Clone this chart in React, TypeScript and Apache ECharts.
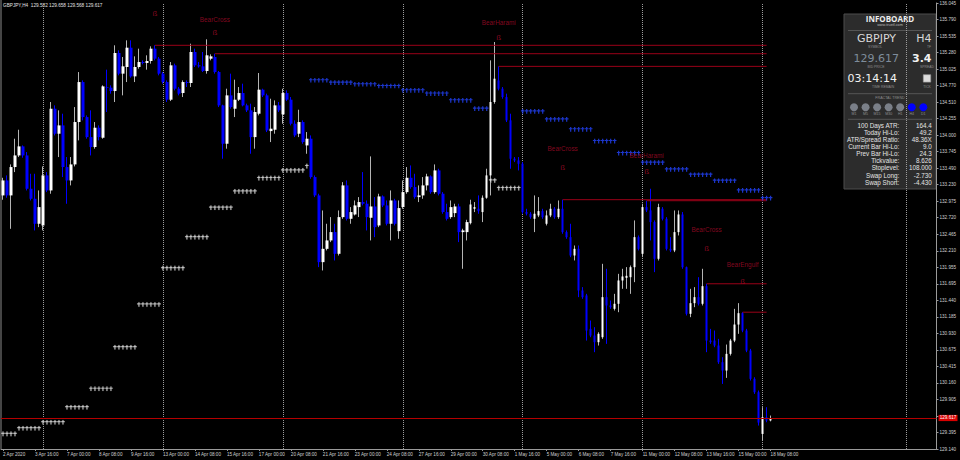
import React, { useEffect, useRef } from 'react';
import * as echarts from 'echarts';

const SYMBOL = 'GBPJPY';
const TIMEFRAME = 'H4';
const BID = 129.617;
const SPREAD = '3.4';
const TIME_REMAIN = '03:14:14';

// H4 bars: [open, close, low, high]
const ohlc: number[][] = [
  [133.066, 133.298, 132.999, 133.339], [133.298, 133.066, 133.030, 133.376], [133.066, 133.505, 132.549, 133.546], [133.505, 133.685, 133.427, 133.944],
  [133.685, 133.825, 133.660, 134.083], [133.825, 133.685, 133.649, 133.840], [133.685, 133.169, 133.143, 133.737], [133.169, 133.014, 132.988, 133.401],
  [133.014, 132.627, 132.524, 133.401], [132.627, 132.885, 132.575, 133.143], [132.601, 133.376, 132.524, 133.515], [133.376, 133.143, 133.117, 133.427],
  [133.143, 134.408, 133.092, 134.512], [134.408, 134.021, 133.995, 134.460], [134.021, 134.150, 133.660, 134.383], [134.150, 133.505, 133.350, 134.331],
  [133.505, 133.298, 132.937, 133.660], [133.298, 133.546, 133.221, 133.660], [133.546, 134.202, 133.515, 134.434], [134.202, 134.821, 133.918, 134.976],
  [134.821, 134.279, 134.228, 134.847], [134.279, 133.969, 133.944, 134.305], [133.969, 133.815, 133.685, 134.383], [133.815, 134.114, 133.789, 134.202],
  [134.114, 133.969, 133.918, 134.150], [133.959, 134.754, 133.944, 134.770], [134.744, 134.734, 134.357, 135.013], [134.734, 134.682, 134.641, 134.770],
  [134.682, 135.271, 134.512, 135.390], [135.271, 134.951, 134.925, 135.312], [134.951, 135.064, 134.615, 135.209], [135.054, 135.353, 134.821, 135.467],
  [135.353, 134.909, 134.889, 135.467], [134.909, 135.054, 134.821, 135.219], [135.054, 135.131, 135.028, 135.338], [135.131, 135.116, 135.095, 135.157],
  [135.116, 135.147, 135.013, 135.235], [135.147, 135.338, 135.106, 135.374], [135.338, 135.183, 135.157, 135.390], [135.183, 134.951, 134.925, 135.209],
  [134.951, 134.821, 134.796, 134.976], [134.821, 134.548, 134.512, 134.847], [134.548, 135.080, 134.527, 135.131], [135.080, 134.718, 134.692, 135.106],
  [134.718, 134.641, 134.615, 134.744], [134.651, 134.821, 134.589, 134.847], [134.821, 134.806, 134.744, 134.847], [134.806, 135.286, 134.744, 135.415],
  [135.286, 135.080, 135.054, 135.338], [135.080, 135.064, 135.044, 135.131], [135.064, 134.992, 134.976, 135.286], [134.992, 135.235, 134.951, 135.483],
  [135.183, 135.219, 135.157, 135.250], [135.209, 134.976, 134.951, 135.260], [134.976, 134.460, 134.434, 134.992], [134.460, 133.866, 133.634, 134.470],
  [133.866, 134.615, 133.789, 134.718], [134.615, 134.434, 134.408, 134.951], [134.408, 134.548, 134.279, 134.858], [134.548, 134.651, 134.527, 134.744],
  [134.651, 134.460, 134.445, 134.796], [134.460, 134.383, 134.357, 134.486], [134.383, 133.969, 133.711, 134.486], [133.969, 134.357, 133.789, 134.434],
  [134.331, 134.703, 134.305, 134.961], [134.703, 134.615, 134.589, 134.718], [134.615, 134.073, 134.047, 134.641], [134.062, 134.099, 133.892, 134.563],
  [134.083, 134.460, 134.021, 134.537], [134.460, 134.383, 134.357, 134.512], [134.321, 134.651, 134.176, 134.718], [134.651, 134.548, 134.527, 134.692],
  [134.548, 134.176, 134.150, 134.589], [134.176, 133.995, 133.969, 134.228], [134.021, 134.202, 133.969, 134.393], [134.202, 133.892, 133.866, 134.228],
  [133.840, 133.944, 133.711, 134.047], [133.944, 133.350, 133.324, 133.995], [133.350, 133.066, 133.040, 133.376], [133.066, 132.033, 131.956, 133.092],
  [132.033, 132.239, 131.904, 132.833], [132.239, 132.369, 132.214, 132.627], [132.369, 132.498, 132.343, 132.730], [132.498, 132.162, 132.059, 132.627],
  [132.162, 132.730, 132.136, 132.833], [132.730, 133.221, 132.704, 133.272], [133.221, 132.704, 132.678, 133.298], [132.704, 132.808, 132.627, 132.885],
  [132.771, 132.911, 132.756, 132.988], [132.885, 132.963, 132.731, 133.040], [132.963, 132.937, 132.911, 133.427], [132.937, 132.730, 132.524, 132.988],
  [132.720, 132.895, 132.369, 133.670], [132.895, 132.575, 132.420, 133.040], [132.601, 133.050, 132.575, 133.092], [133.050, 132.911, 132.885, 133.066],
  [132.911, 132.627, 132.601, 132.988], [132.627, 132.988, 132.369, 133.143], [132.988, 132.627, 132.601, 133.014], [132.513, 132.870, 132.394, 132.988],
  [132.885, 133.117, 132.859, 133.298], [133.117, 133.339, 133.092, 133.505], [133.339, 133.195, 133.169, 133.530], [133.195, 133.040, 133.014, 133.401],
  [133.040, 133.066, 132.963, 133.221], [133.066, 133.221, 133.014, 133.350], [133.221, 133.360, 133.143, 133.401], [133.360, 133.117, 133.092, 133.376],
  [133.117, 133.453, 133.092, 133.546], [133.453, 133.092, 133.066, 133.479], [133.092, 132.808, 132.782, 133.117], [132.808, 132.704, 132.678, 132.937],
  [132.730, 132.885, 132.704, 132.988], [132.792, 132.895, 132.730, 132.937], [132.895, 132.498, 132.343, 132.937], [132.498, 132.524, 131.930, 132.550],
  [132.498, 132.653, 132.369, 132.689], [132.637, 132.926, 132.617, 132.999], [132.859, 132.885, 132.808, 132.963], [132.859, 132.823, 132.782, 133.066],
  [132.808, 133.030, 132.653, 133.066], [133.030, 133.376, 133.014, 133.479], [133.376, 134.512, 133.066, 135.157], [134.512, 134.873, 134.486, 135.441],
  [134.847, 134.718, 134.692, 135.064], [134.718, 134.589, 134.563, 134.744], [134.589, 134.228, 134.202, 134.641], [134.228, 133.634, 133.479, 134.331],
  [133.634, 133.608, 133.582, 133.660], [133.608, 133.556, 133.453, 133.660], [133.556, 132.808, 132.782, 133.582], [132.808, 132.782, 132.756, 132.859],
  [132.782, 132.730, 132.704, 132.808], [132.704, 132.782, 132.498, 133.066], [132.756, 132.823, 132.730, 133.040], [132.823, 132.730, 132.704, 132.859],
  [132.627, 132.756, 132.601, 132.833], [132.756, 132.859, 132.730, 132.937], [132.859, 132.730, 132.704, 132.885], [132.730, 132.859, 132.704, 132.988],
  [132.859, 132.498, 132.472, 133.000], [132.498, 132.420, 132.394, 132.524], [132.420, 132.136, 132.110, 132.627], [132.136, 132.239, 132.059, 132.291],
  [132.239, 131.594, 131.491, 132.291], [131.594, 131.491, 131.465, 131.646], [131.517, 130.974, 130.819, 131.542], [131.000, 130.897, 130.871, 131.129],
  [130.897, 130.794, 130.639, 131.026], [130.794, 130.923, 130.742, 130.948], [130.871, 131.491, 130.845, 132.007], [131.491, 131.362, 130.768, 131.930],
  [131.362, 131.336, 131.310, 131.439], [131.310, 131.388, 131.284, 131.542], [131.388, 131.749, 131.258, 131.852], [131.749, 131.811, 131.620, 131.930],
  [131.790, 131.821, 131.620, 131.956], [131.800, 131.955, 131.542, 131.981], [131.955, 132.420, 131.723, 132.679], [132.420, 132.239, 132.214, 132.446],
  [132.162, 132.885, 132.110, 132.937], [132.885, 132.834, 132.808, 132.984], [132.834, 132.653, 132.369, 133.169], [132.653, 132.085, 131.878, 132.679],
  [132.085, 132.885, 132.059, 132.937], [132.859, 132.704, 132.678, 132.885], [132.704, 132.239, 132.214, 132.730], [132.239, 132.214, 132.188, 132.420],
  [132.214, 132.498, 132.188, 132.833], [132.498, 132.771, 132.446, 132.833], [132.771, 131.955, 131.930, 132.808], [131.955, 131.233, 131.207, 131.965],
  [131.233, 131.398, 131.181, 131.620], [131.398, 131.491, 131.336, 131.646], [131.491, 131.388, 131.362, 131.800], [131.388, 131.661, 131.362, 131.930],
  [131.661, 130.819, 130.639, 131.698], [130.819, 130.794, 130.768, 131.000], [130.819, 130.742, 130.716, 130.974], [130.742, 130.484, 130.458, 130.845],
  [130.484, 130.355, 130.148, 130.561], [130.355, 130.613, 130.241, 130.757], [130.613, 130.819, 130.587, 130.845], [130.819, 131.067, 130.794, 131.310],
  [131.067, 131.243, 130.923, 131.398], [131.243, 130.974, 130.948, 131.258], [130.974, 130.664, 130.639, 131.000], [130.664, 130.226, 130.200, 130.690],
  [130.226, 130.019, 129.993, 130.251], [130.019, 129.549, 129.503, 130.045], [129.374, 129.632, 129.270, 129.787], [129.632, 129.580, 129.554, 129.787],
  [129.582, 129.617, 129.568, 129.658],
];

// time labels, one every 8 bars
const timeLabels = [
  '2 Apr 2020', '3 Apr 16:00', '7 Apr 00:00', '8 Apr 08:00', '9 Apr 16:00', '13 Apr 00:00', '14 Apr 08:00',
  '15 Apr 16:00', '17 Apr 00:00', '20 Apr 08:00', '21 Apr 16:00', '23 Apr 00:00', '24 Apr 08:00', '27 Apr 16:00',
  '29 Apr 00:00', '30 Apr 08:00', '1 May 16:00', '5 May 00:00', '6 May 08:00', '7 May 16:00', '11 May 00:00',
  '12 May 08:00', '13 May 16:00', '15 May 00:00', '18 May 08:00',
];
const LABEL_EVERY = 8;

// price scale labels, bottom to top
const priceTickLabels = [
  '129.140', '129.395', '', '129.905', '130.160', '130.415', '130.675', '130.930', '131.185', '131.440',
  '131.695', '131.955', '132.210', '132.465', '132.720', '132.975', '133.230', '133.490', '133.745', '134.000',
  '134.255', '134.510', '134.770', '135.025', '135.280', '135.535', '135.790', '136.045',
];
const PRICE_MIN = 129.14;
const PRICE_MAX = 136.045;
const TOTAL_SLOTS = 234;

// stepped trailing levels: [firstBar, lastBar, price]
const supportSteps: number[][] = [
  [0, 3, 129.374], [4, 9, 129.461], [10, 15, 129.554], [16, 21, 129.787], [22, 27, 130.072], [28, 33, 130.716],
  [34, 39, 131.377], [40, 45, 131.940], [46, 51, 132.420], [52, 57, 132.876], [58, 63, 133.128], [64, 69, 133.334],
  [70, 75, 133.453], [76, 76, 133.520], [122, 123, 133.298], [124, 129, 133.179],
];
const resistanceSteps: number[][] = [
  [77, 81, 134.848], [82, 87, 134.812], [88, 93, 134.786], [94, 99, 134.759], [100, 105, 134.693], [106, 111, 134.642],
  [112, 117, 134.538], [118, 121, 134.409], [130, 135, 134.367], [136, 141, 134.243], [142, 147, 134.089],
  [148, 153, 133.907], [154, 159, 133.721], [160, 165, 133.573], [166, 171, 133.469], [172, 177, 133.387],
  [178, 183, 133.294], [184, 189, 133.144], [190, 192, 133.024],
];

// candle pattern signals
const signalBars = [38, 53, 124, 140, 161, 176, 185];
const signalNames = ['', 'BearCross', 'BearHarami', 'BearCross', 'BearHarami', 'BearCross', 'BearEngulf'];
const signalArrowPrice = [135.890, 135.596, 135.514, 133.505, 133.443, 132.250, 131.738];
const signalNamePrice = [136.2, 135.782, 135.746, 133.790, 133.690, 132.544, 131.993];
const signalLevel = [135.390, 135.260, 135.064, 133.000, 132.984, 131.698, 131.258];
const LEVEL_END_BAR = 191;

const gridLineBars = [10, 40, 70, 100, 130, 160, 190, 226];

// infoboard
const infoLabels = ['100 Days ATR:', 'Today Hi-Lo:', 'ATR/Spread Ratio:', 'Current Bar Hi-Lo:', 'Prev Bar Hi-Lo:', 'Tickvalue:', 'Stoplevel:', 'Swap Long:', 'Swap Short:'];
const infoValues = ['164.4', '49.2', '48.36X', '9.0', '24.3', '8.626', '108.000', '-2.730', '-4.430'];
const trendFrames = ['M1', 'M5', 'M15', 'M30', 'H1', 'H4', 'D1'];
const trendDown = [false, false, false, false, false, true, true];

const SMALL_FONT = '"Liberation Sans", Arial, sans-serif';
const BIG_FONT = '"DejaVu Sans", "Liberation Sans", sans-serif';
const SIGNAL_RED = '#a50a28';
const LEVEL_RED = '#9a0018';

function expandSteps(steps: number[][]) {
  const out: number[][] = [];
  steps.forEach(([s, e, p]) => {
    for (let i = s; i <= e; i++) out.push([i, p]);
  });
  return out;
}

function txt(text: string, x: number, y: number, size: number, fill: string, align: string, extra: any = {}) {
  return {
    type: 'text', x, y, silent: true,
    style: {
      text, fill, fontSize: size, fontFamily: extra.family || SMALL_FONT, fontWeight: extra.weight || 'normal',
      align, textAlign: align, verticalAlign: 'middle', textVerticalAlign: 'middle',
    },
  };
}

function infoBoard() {
  const L = 844, T = 14, W = 92, H = 175;
  const cx = L + W / 2;
  const grey = '#8c8c8c';
  const kids: any[] = [
    { type: 'rect', shape: { x: L, y: T, width: W, height: H }, style: { fill: '#2c2c2c', stroke: '#4c4c4c', lineWidth: 1 } },
    txt('INFOBOARD', cx, 18.9, 8, '#ececec', 'center', { weight: 'bold', family: '"Open Sans", sans-serif' }),
    txt('www.truetl.com', cx, 25, 3.8, '#b8b8b8', 'center'),
    { type: 'line', shape: { x1: L + 4, y1: 30.5, x2: L + W - 4, y2: 30.5 }, style: { stroke: '#555', lineWidth: 1 } },
    txt(SYMBOL, 857, 38.8, 11, '#d8d8d8', 'left', { family: BIG_FONT }),
    txt(TIMEFRAME, 931.5, 38.8, 11, '#d8d8d8', 'right', { family: BIG_FONT }),
    txt('SYMBOL', 875, 46.8, 3.4, grey, 'center'),
    txt('TF', 929, 46.8, 3.4, grey, 'center'),
    txt(BID.toFixed(3), 853.5, 58.6, 11, '#7f8c9b', 'left', { family: BIG_FONT }),
    txt(SPREAD, 931.5, 58.6, 11, '#f2f2f2', 'right', { family: BIG_FONT, weight: 'bold' }),
    txt('BID PRICE', 876, 67, 3.4, grey, 'center'),
    txt('SPREAD', 927, 67, 3.4, grey, 'center'),
    txt(TIME_REMAIN, 847.5, 78.6, 11, '#f2f2f2', 'left', { family: BIG_FONT }),
    { type: 'rect', shape: { x: 923.3, y: 74.7, width: 7.4, height: 7.4 }, style: { fill: '#dcdcdc', stroke: '#999', lineWidth: 0.6 } },
    txt('TIME REMAIN', 883, 87.4, 3.4, grey, 'center'),
    txt('TICK', 927, 87.4, 3.4, grey, 'center'),
    { type: 'line', shape: { x1: L + 4, y1: 93.7, x2: L + W - 4, y2: 93.7 }, style: { stroke: '#555', lineWidth: 1 } },
    txt('FRACTAL TREND', 890, 98.2, 3.6, grey, 'center'),
    { type: 'line', shape: { x1: L + 4, y1: 119.3, x2: L + W - 4, y2: 119.3 }, style: { stroke: '#555', lineWidth: 1 } },
  ];
  trendFrames.forEach((f, i) => {
    const x = 854 + i * 11.55;
    kids.push({ type: 'circle', shape: { cx: x, cy: 107.3, r: 4 }, style: { fill: trendDown[i] ? '#0000ff' : '#7a7f88' } });
    kids.push(txt(f, x, 114.4, 3.6, grey, 'center'));
  });
  infoLabels.forEach((lab, i) => {
    const y = 125.8 + i * 7.03;
    kids.push(txt(lab, 899.3, y, 6.3, '#e4e4e4', 'right'));
    kids.push(txt(infoValues[i], 931.7, y, 6.3, '#e4e4e4', 'right'));
  });
  return { type: 'group', children: kids, z: 100 };
}

export default function App() {
  const ref = useRef<HTMLDivElement>(null);

  useEffect(() => {
    if (!ref.current) return;
    const chart = echarts.init(ref.current, null, { renderer: 'svg' });

    const categories = Array.from({ length: TOTAL_SLOTS }, (_, i) => String(i));
    const bodies = ohlc.map(([o, c]) => [o, c, Math.min(o, c), Math.max(o, c)]);
    const isLabelSlot = (i: number) => i % LABEL_EVERY === 0 && i / LABEL_EVERY < timeLabels.length;
    const last = ohlc[ohlc.length - 1];
    const header = `${SYMBOL},${TIMEFRAME}\u00a0\u00a0${last[0].toFixed(3)} ${last[3].toFixed(3)} ${last[2].toFixed(3)} ${last[1].toFixed(3)}`;
    const crossPath = 'path://M1,0h1v1h1v1h-1v2h-1v-2h-1v-1h1z';

    const levelSeries = signalBars.map((b, i) => ({
      name: 'level' + i, type: 'line', z: 3, silent: true, symbol: 'none', showSymbol: false,
      data: [[b, signalLevel[i]], [LEVEL_END_BAR, signalLevel[i]]],
      lineStyle: { color: LEVEL_RED, width: 1, type: 'solid' },
      itemStyle: { color: LEVEL_RED },
    }));

    const option: any = {
      animation: false,
      backgroundColor: '#000000',
      grid: { left: 0.5, right: 23.5, top: 3, bottom: 11, containLabel: false },
      xAxis: {
        type: 'category',
        data: categories,
        boundaryGap: true,
        axisLine: { show: true, lineStyle: { color: '#9a9a9a', width: 1 } },
        axisTick: { show: true, alignWithLabel: true, interval: isLabelSlot, length: 2, lineStyle: { color: '#9a9a9a' } },
        axisLabel: {
          show: true, interval: isLabelSlot, align: 'left', margin: 2.5, fontSize: 4.6, color: '#d0d0d0', fontFamily: SMALL_FONT,
          formatter: (_v: string, i: number) => timeLabels[i / LABEL_EVERY] || '',
        },
        splitLine: { show: false },
      },
      yAxis: [
        {
          type: 'value', min: PRICE_MIN, max: PRICE_MAX, position: 'right', scale: true,
          axisLine: { show: true, lineStyle: { color: '#9a9a9a', width: 1 } },
          axisTick: { show: false }, axisLabel: { show: false }, splitLine: { show: false },
        },
        {
          type: 'value', min: 0, max: priceTickLabels.length - 1, interval: 1, position: 'right',
          axisLine: { show: false },
          axisTick: { show: true, length: 2, lineStyle: { color: '#9a9a9a' } },
          axisLabel: {
            show: true, margin: 3, fontSize: 4.6, color: '#d0d0d0', fontFamily: SMALL_FONT,
            formatter: (v: number) => priceTickLabels[Math.round(v)] || '',
          },
          splitLine: { show: false },
        },
      ],
      series: [
        {
          name: 'gridlines', type: 'line', data: [], z: 1, silent: true,
          markLine: {
            silent: true, symbol: ['none', 'none'], z: 1, label: { show: false },
            lineStyle: { color: '#9c9c9c', type: [1, 1], width: 1 },
            emphasis: { disabled: true },
            data: gridLineBars.map((b) => ({ xAxis: b })),
          },
        },
        {
          name: 'wicks', type: 'candlestick', data: ohlc, barWidth: 1, z: 2, silent: true,
          itemStyle: { color: '#b4b4b4', color0: '#0000ff', borderColor: '#b4b4b4', borderColor0: '#0000ff', borderWidth: 1 },
        },
        {
          name: 'bodies', type: 'candlestick', data: bodies, barWidth: 3, z: 3, silent: true,
          itemStyle: { color: '#ffffff', color0: '#0000ff', borderColor: '#ffffff', borderColor0: '#0000ff', borderWidth: 0 },
        },
        ...levelSeries,
        {
          name: 'bid', type: 'line', data: [], z: 4, silent: true,
          markLine: {
            silent: true, symbol: ['none', 'none'],
            lineStyle: { color: '#b40000', width: 1, type: 'solid' },
            emphasis: { disabled: true },
            label: {
              show: true, position: 'end', distance: 2, formatter: BID.toFixed(3),
              backgroundColor: '#d80000', color: '#ffffff', fontSize: 4.6, fontFamily: SMALL_FONT, padding: [0.6, 1.2],
            },
            data: [{ yAxis: BID }],
          },
        },
        {
          name: 'support', type: 'scatter', data: expandSteps(supportSteps), symbol: crossPath, symbolSize: [3.6, 4.6], z: 4, silent: true,
          itemStyle: { color: '#ffffff', borderColor: '#555', borderWidth: 0.3 },
        },
        {
          name: 'resistance', type: 'scatter', data: expandSteps(resistanceSteps), symbol: crossPath, symbolSize: [3.6, 4.6], z: 4, silent: true,
          itemStyle: { color: '#2344ff' },
        },
        {
          name: 'signalArrow', type: 'scatter', symbolSize: 1, z: 5, silent: true,
          data: signalBars.map((b, i) => [b, signalArrowPrice[i]]),
          itemStyle: { color: 'rgba(0,0,0,0)' },
          label: { show: true, position: 'inside', formatter: 'ß', fontSize: 8, color: SIGNAL_RED, fontFamily: SMALL_FONT },
        },
        {
          name: 'signalName', type: 'scatter', symbolSize: 1, z: 5, silent: true,
          data: signalBars.map((b, i) => [b, signalNamePrice[i]]),
          itemStyle: { color: 'rgba(0,0,0,0)' },
          label: {
            show: true, position: 'inside', fontSize: 6.4, color: SIGNAL_RED, fontFamily: SMALL_FONT,
            formatter: (p: any) => signalNames[p.dataIndex],
          },
        },
      ],
      graphic: [
        { type: 'line', shape: { x1: 1, y1: 0, x2: 1, y2: 449 }, style: { stroke: '#8a8a8a', lineWidth: 1 }, silent: true },
        txt(header, 3, 5.2, 4.7, '#e0e0e0', 'left'),
        infoBoard(),
      ],
    };

    chart.setOption(option);
    return () => chart.dispose();
  }, []);

  return (
    <div
      ref={ref}
      style={{ position: 'fixed', left: 0, top: 0, width: 960, height: 460, background: '#000' }}
    />
  );
}
